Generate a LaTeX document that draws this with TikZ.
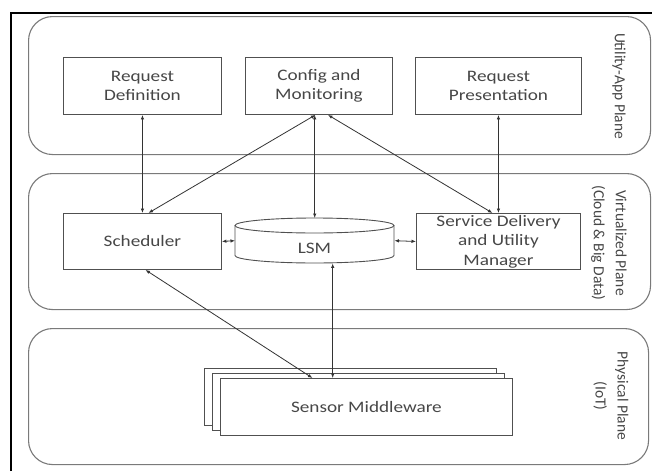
\documentclass[tikz,border=0pt]{standalone}
\usepackage{fontspec}
\setmainfont{Carlito}
\newfontfamily\boxfont{Carlito}[FakeStretch=1.2]
\usetikzlibrary{arrows.meta}
\definecolor{planegray}{HTML}{7A7A7A}
\definecolor{boxgray}{HTML}{505050}
\definecolor{txtgray}{HTML}{474747}
\begin{document}
\begin{tikzpicture}[x=1pt,y=-1pt,
  plane/.style={draw=planegray, line width=1.1pt, rounded corners=24pt, inner sep=0pt, anchor=north west},
  box/.style={draw=boxgray, line width=0.9pt, fill=white, inner sep=0pt, anchor=north west, align=center, text=txtgray, font=\boxfont\fontsize{16}{19.5}\selectfont},
  lab/.style={rotate=-90, align=center, text=txtgray, font=\fontsize{15.5}{22}\selectfont},
  link/.style={draw=black!80, line width=0.8pt, {Latex[length=4.5pt,width=3.5pt]}-{Latex[length=4.5pt,width=3.5pt]}}]
\useasboundingbox (0,0) rectangle (652,471);
\fill[white] (0,0) rectangle (652,471);
\draw[line width=2.5pt] (11,471) -- (11,13) -- (652,13);

% planes
\node[plane, minimum width=622pt, minimum height=138pt] (up) at (28,16) {};
\node[plane, minimum width=622pt, minimum height=136pt] (vp) at (28,173) {};
\node[plane, minimum width=620pt, minimum height=136pt] (pp) at (28,328) {};
\node[lab] (uplab) at (619,86) {Utility-App Plane};
\node[lab] (vplab) at (609,243) {Virtualized Plane\\(Cloud \& Big Data)};
\node[lab] (pplab) at (611,396) {Physical Plane\\(IoT)};

% utility boxes
\node[box, minimum width=158pt, minimum height=57pt] (rd) at (63,57) {Request\\Definition};
\node[box, minimum width=147pt, minimum height=57pt] (cfg) at (245,57) {Config and\\Monitoring};
\node[box, minimum width=166pt, minimum height=57pt] (rp) at (415,57) {Request\\Presentation};

% virtualized
\node[box, minimum width=158pt, minimum height=56pt] (sch) at (63,213) {Scheduler};
\node[box, minimum width=164pt, minimum height=56pt] (sd) at (416,213) {Service Delivery\\and Utility\\Manager};
\node[inner sep=0pt, minimum width=159pt, minimum height=45pt, anchor=north west] (lsm) at (235,218) {};
\draw[draw=boxgray, line width=0.9pt, fill=white]
  (235,225.5) -- (235,255.5) arc[start angle=180, end angle=360, x radius=79.5pt, y radius=7.5pt] -- (394,225.5);
\draw[draw=boxgray, line width=0.9pt, fill=white] (314.5,225.5) ellipse [x radius=79.5pt, y radius=7.5pt];
\node[text=txtgray, font=\boxfont\fontsize{16}{19.5}\selectfont] (lsmtext) at (314.5,248) {LSM};

% physical
\node[box, minimum width=292pt, minimum height=57pt] (sm3) at (204,368) {};
\node[box, minimum width=292pt, minimum height=57pt] (sm2) at (212,373) {};
\node[box, minimum width=292pt, minimum height=57pt] (sm1) at (220,378) {Sensor Middleware};

% connectors
\draw[link] (rd.south) -- (rd.south |- sch.north);
\draw[link] ([xshift=-3.5pt]cfg.south) -- ([xshift=6pt]sch.north);
\draw[link] (lsm.north |- cfg.south) -- (lsm.north);
\draw[link] ([xshift=9pt]cfg.south) -- ([xshift=-6pt]sd.north);
\draw[link] (rp.south) -- (rp.south |- sd.north);
\draw[link] (sch.east) -- (lsm.west);
\draw[link] (lsm.east) -- (sd.west);
\draw[link] ([xshift=-54pt]sm1.north) -- ([xshift=3pt]sch.south);
\draw[link] ([xshift=18pt]lsm.south |- sm1.north) -- ([xshift=18pt]lsm.south);
\end{tikzpicture}
\end{document}
